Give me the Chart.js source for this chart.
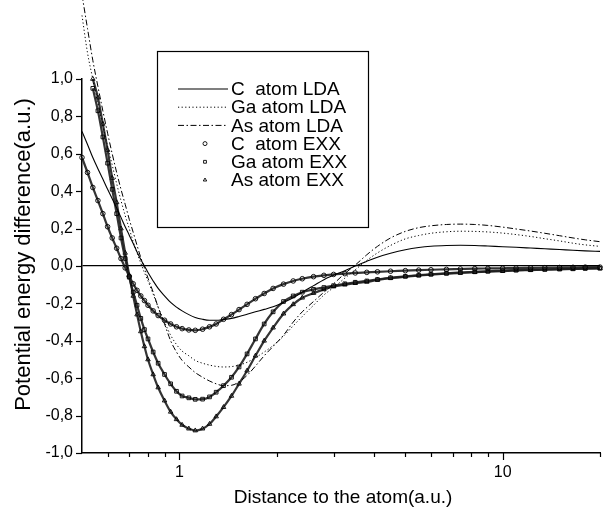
<!DOCTYPE html>
<html><head><meta charset="utf-8">
<script src="https://cdn.jsdelivr.net/npm/chart.js@4.4.1/dist/chart.umd.min.js"></script>
<style>html,body{margin:0;padding:0;background:#fff}canvas{display:block}</style>
</head><body>
<canvas id="c" width="610" height="509" style="width:610px;height:509px"></canvas>
<script>
// distance to the atom (a.u.)
const xValues = [0.5,0.52,0.54,0.56,0.58,0.6,0.62,0.64,0.66,0.68,0.7,0.72,0.74,0.76,0.78,0.8,0.83,0.86,0.9,0.94,0.98,1.02,1.07,1.12,1.18,1.24,1.3,1.37,1.45,1.53,1.62,1.72,1.83,1.95,2.1,2.25,2.4,2.6,2.8,3.0,3.25,3.5,3.8,4.1,4.5,5.0,5.5,6.0,6.7,7.4,8.2,9.0,10,11,12.2,13.5,15,16.5,18,20];

const cLDA = [0.72,0.65,0.58,0.52,0.465,0.41,0.36,0.31,0.26,0.21,0.165,0.12,0.075,0.035,0.0,-0.035,-0.08,-0.12,-0.16,-0.195,-0.22,-0.24,-0.26,-0.275,-0.285,-0.29,-0.29,-0.286,-0.28,-0.27,-0.258,-0.245,-0.232,-0.218,-0.195,-0.17,-0.14,-0.105,-0.073,-0.05,-0.025,0.0,0.025,0.047,0.068,0.087,0.099,0.106,0.11,0.111,0.11,0.107,0.103,0.1,0.096,0.092,0.088,0.084,0.081,0.078];

const gaLDA = [1.34,1.14,1.0,0.87,0.75,0.64,0.54,0.44,0.35,0.27,0.2,0.13,0.07,0.015,-0.035,-0.08,-0.15,-0.22,-0.3,-0.37,-0.42,-0.455,-0.48,-0.505,-0.52,-0.53,-0.537,-0.54,-0.538,-0.53,-0.515,-0.49,-0.46,-0.425,-0.375,-0.32,-0.27,-0.21,-0.155,-0.115,-0.065,-0.02,0.03,0.07,0.11,0.145,0.163,0.175,0.183,0.186,0.185,0.182,0.176,0.168,0.158,0.146,0.134,0.122,0.113,0.105];

const asLDA = [1.45,1.27,1.1,0.96,0.83,0.71,0.6,0.5,0.41,0.33,0.25,0.18,0.11,0.045,-0.01,-0.065,-0.14,-0.22,-0.31,-0.4,-0.46,-0.505,-0.54,-0.57,-0.595,-0.615,-0.63,-0.64,-0.638,-0.62,-0.585,-0.535,-0.48,-0.43,-0.37,-0.3,-0.245,-0.19,-0.14,-0.095,-0.04,0.005,0.06,0.105,0.15,0.185,0.205,0.215,0.222,0.224,0.222,0.217,0.208,0.198,0.187,0.175,0.162,0.15,0.14,0.13];

const cEXX = [0.58,0.5,0.42,0.35,0.28,0.21,0.15,0.095,0.04,-0.01,-0.055,-0.095,-0.13,-0.16,-0.185,-0.21,-0.24,-0.265,-0.29,-0.31,-0.325,-0.335,-0.342,-0.344,-0.338,-0.325,-0.31,-0.285,-0.26,-0.233,-0.205,-0.175,-0.147,-0.12,-0.097,-0.08,-0.068,-0.057,-0.05,-0.045,-0.041,-0.037,-0.034,-0.031,-0.028,-0.025,-0.022,-0.02,-0.018,-0.016,-0.014,-0.013,-0.012,-0.011,-0.01,-0.009,-0.008,-0.007,-0.006,-0.006];

const gaEXX = [null,null,0.95,0.83,0.69,0.55,0.41,0.28,0.15,0.04,-0.06,-0.14,-0.21,-0.28,-0.34,-0.39,-0.46,-0.52,-0.58,-0.63,-0.67,-0.695,-0.705,-0.713,-0.712,-0.7,-0.675,-0.64,-0.595,-0.54,-0.47,-0.39,-0.31,-0.245,-0.19,-0.16,-0.14,-0.125,-0.115,-0.105,-0.095,-0.087,-0.08,-0.072,-0.063,-0.055,-0.049,-0.044,-0.039,-0.035,-0.031,-0.028,-0.025,-0.022,-0.02,-0.018,-0.016,-0.015,-0.013,-0.012];

const asEXX = [null,null,1.0,0.9,0.76,0.62,0.47,0.34,0.2,0.07,-0.05,-0.16,-0.26,-0.35,-0.43,-0.5,-0.58,-0.65,-0.72,-0.78,-0.82,-0.85,-0.87,-0.88,-0.87,-0.845,-0.805,-0.755,-0.695,-0.63,-0.56,-0.48,-0.4,-0.33,-0.255,-0.205,-0.17,-0.145,-0.125,-0.11,-0.1,-0.092,-0.085,-0.075,-0.065,-0.057,-0.051,-0.046,-0.041,-0.037,-0.033,-0.03,-0.027,-0.024,-0.022,-0.02,-0.018,-0.016,-0.014,-0.013];

const seriesLabels = ['C  atom LDA','Ga atom LDA','As atom LDA','C  atom EXX','Ga atom EXX','As atom EXX'];
const xMajorTicks = [1, 10];
const xMinorTicks = [0.6,0.7,0.8,0.9,2,3,4,5,6,7,8,9,20];
const yRange = [-1.0, 1.0];
const xRange = [0.5, 20];
const xTitle = 'Distance to the atom(a.u.)';
const yTitle = 'Potential energy difference(a.u.)';

const FONT = '"Liberation Sans", Arial, Helvetica, sans-serif';
const pts = arr => xValues.map((x,i)=>({x, y:arr[i]})).filter(p=>p.y!==null);

const lineDs = (label, arr, dash, w) => ({label, data: pts(arr), showLine:true, borderColor:'#000', borderWidth:w, borderDash:dash, pointRadius:0, cubicInterpolationMode:'monotone', clip:false});
const markDs = (label, arr, style, r) => ({label, data: pts(arr), showLine:true, borderColor:'rgba(30,30,30,0.9)', borderWidth:2.2, pointStyle:style, pointRadius:r, pointBorderWidth:0.9, pointBorderColor:'#000', pointBackgroundColor:'rgba(0,0,0,0)', cubicInterpolationMode:'monotone', clip:false});

const datasets = [
  lineDs(seriesLabels[0], cLDA, [], 1.1),
  lineDs(seriesLabels[1], gaLDA, [1.2,2.4], 1),
  lineDs(seriesLabels[2], asLDA, [6,2.5,1.5,2.5], 1),
  markDs(seriesLabels[3], cEXX, 'circle', 2.3),
  markDs(seriesLabels[4], gaEXX, 'rect', 2.6),
  markDs(seriesLabels[5], asEXX, 'triangle', 2.6)
];

const decor = {
  id:'decor',
  afterDraw(chart){
    const ctx = chart.ctx, xs = chart.scales.x, ys = chart.scales.y, a = chart.chartArea;
    ctx.save();
    ctx.strokeStyle='#000'; ctx.lineWidth=1.2; ctx.setLineDash([]);
    // x tick marks
    xMajorTicks.concat(xMinorTicks).forEach(v=>{
      const p = Math.round(xs.getPixelForValue(v))+0.5;
      const len = xMajorTicks.includes(v) ? 7 : 4;
      ctx.beginPath(); ctx.moveTo(p, a.bottom); ctx.lineTo(p, a.bottom+len); ctx.stroke();
    });
    // y tick marks
    ys.ticks.forEach(t=>{
      const p = Math.round(ys.getPixelForValue(t.value))+0.5;
      const major = Math.abs(Math.round(t.value*10)) % 2 === 0;
      const len = major ? 6 : 3;
      ctx.beginPath(); ctx.moveTo(a.left-len, p); ctx.lineTo(a.left, p); ctx.stroke();
    });
    // axis titles
    ctx.fillStyle='#000';
    ctx.textAlign='center'; ctx.textBaseline='middle';
    ctx.font = '19px '+FONT;
    ctx.fillText(xTitle, 343, 498);
    ctx.save();
    ctx.translate(23.5, 254.5); ctx.rotate(-Math.PI/2);
    ctx.font = '22px '+FONT;
    ctx.fillText(yTitle, 0, 0);
    ctx.restore();
    // legend
    const L = {x0:157, y0:51, x1:368, y1:227, rowY:89, rowH:18.2, lx0:178, lx1:228, mx:205, tx:231};
    ctx.lineWidth=1.2;
    ctx.strokeRect(L.x0+0.5, L.y0+0.5, L.x1-L.x0, L.y1-L.y0);
    ctx.font = '19px '+FONT; ctx.textAlign='left';
    chart.data.datasets.forEach((ds,i)=>{
      const y = L.rowY + i*L.rowH;
      ctx.strokeStyle='#000';
      if (ds.pointRadius===0){
        ctx.lineWidth=ds.borderWidth; ctx.setLineDash(ds.borderDash);
        ctx.beginPath(); ctx.moveTo(L.lx0, y); ctx.lineTo(L.lx1, y); ctx.stroke();
        ctx.setLineDash([]);
      } else {
        ctx.fillStyle='rgba(0,0,0,0)'; ctx.lineWidth=ds.pointBorderWidth;
        Chart.helpers.drawPoint(ctx, {pointStyle:ds.pointStyle, radius:2, borderWidth:ds.pointBorderWidth, rotation:0}, L.mx, y);
      }
      ctx.fillStyle='#000';
      ctx.fillText(ds.label, L.tx, y+1);
    });
    ctx.restore();
  }
};

new Chart(document.getElementById('c'), {
  type:'scatter',
  data:{datasets},
  options:{
    responsive:false, animation:false, devicePixelRatio:1,
    layout:{padding:{top:79, right:10, bottom:0, left:0}},
    plugins:{legend:{display:false}, tooltip:{enabled:false}},
    scales:{
      x:{type:'logarithmic', min:xRange[0], max:xRange[1],
        border:{display:true, color:'#000', width:1.5},
        grid:{display:false, drawTicks:false},
        afterBuildTicks: s => { s.ticks = xMajorTicks.concat(xMinorTicks).sort((p,q)=>p-q).map(v=>({value:v})); },
        afterFit: s => { s.height = 56; },
        ticks:{autoSkip:false, maxRotation:0, padding:10, color:'#000', font:{family:FONT, size:16},
          callback: v => xMajorTicks.includes(v) ? String(v) : ''}
      },
      y:{min:yRange[0], max:yRange[1],
        border:{display:true, color:'#000', width:1.5},
        grid:{display:true, drawTicks:false, drawOnChartArea:true, lineWidth:1.2,
          color: c => (c.tick && Math.abs(c.tick.value)<1e-9) ? '#000' : 'rgba(0,0,0,0)'},
        afterFit: s => { s.width = 82; },
        ticks:{stepSize:0.1, padding:9, color:'#000', font:{family:FONT, size:16},
          callback: v => { const r = Math.round(v*10); return r%2===0 ? (r/10).toFixed(1).replace('.',',') : ''; }}
      }
    }
  },
  plugins:[decor]
});
</script>
</body></html>
